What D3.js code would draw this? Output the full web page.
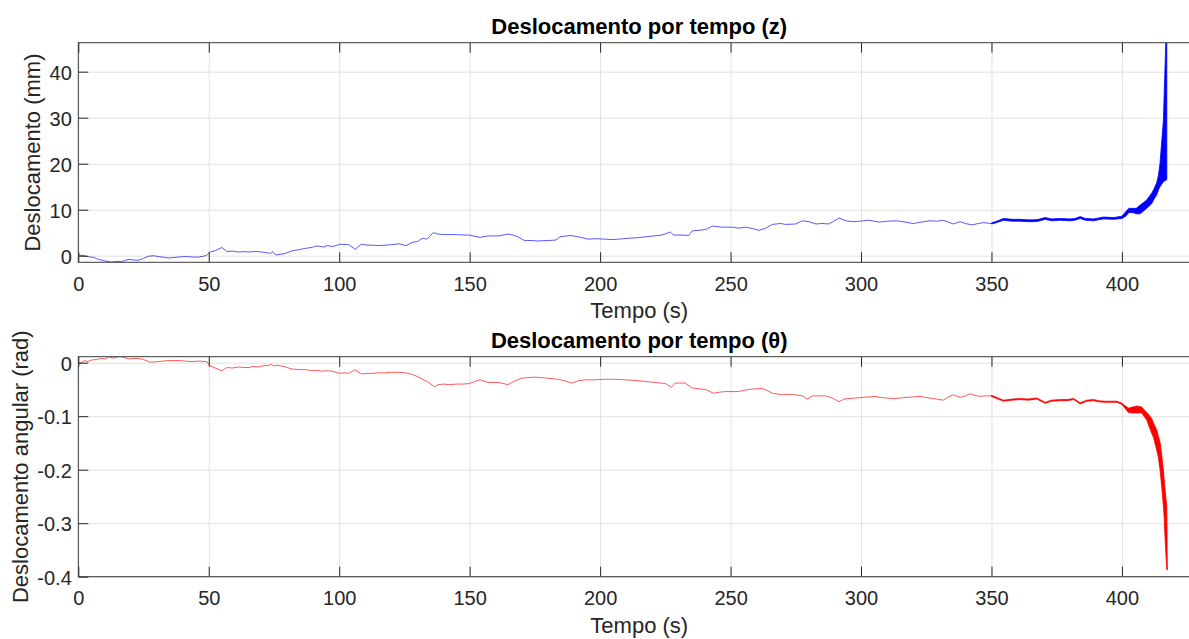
<!DOCTYPE html>
<html>
<head>
<meta charset="utf-8">
<script src="https://cdn.jsdelivr.net/npm/d3@7"></script>
<style>
  html, body { margin: 0; padding: 0; background: #ffffff; }
  svg { display: block; font-family: "Liberation Sans", Arial, Helvetica, sans-serif; }
  .tick text { fill: #262626; }
</style>
</head>
<body>
<svg id="fig" width="1189" height="639"></svg>
<script>
// ---- Time axis (shared by both panels) ----
const xTicks = [0, 50, 100, 150, 200, 250, 300, 350, 400];
const xTickLabels = ["0", "50", "100", "150", "200", "250", "300", "350", "400"];
const xLimits = [0, 430];

// ---- Panel 1: linear displacement z (mm) ----
const zTicks = [0, 10, 20, 30, 40];
const zTickLabels = ["0", "10", "20", "30", "40"];
const zLimits = [-1.43, 46.3];

const zTime = [0, 2, 3.8, 6, 7.7, 10, 12.8, 15, 16.6, 19.2, 21, 23, 25, 26.9, 29, 30.7, 32.5, 34.5, 36.5, 38.3,
  40, 42.2, 44, 46, 48, 49.2, 50.5, 52.5, 55, 57, 59, 61.5, 63.5, 65.4, 67, 69, 71.5, 73.7, 74.5, 75.6,
  77.5, 79.4, 82, 84.5, 87, 89.6, 90.5, 92.1, 94, 95.5, 97.3, 100.4, 103.6, 106.2, 107.5, 108.7, 110.5, 112.6, 115, 117.7,
  120, 123, 125.6, 128, 130, 132, 133.5, 134.5, 136, 138, 140, 143, 145, 147.5, 150, 152, 154, 157, 160.9, 164.7,
  166.5, 168.5, 171, 174, 176, 180, 183, 184.6, 188.5, 191.7, 195.5, 198, 201.9, 204.5, 207, 210.9, 214, 217.3, 220.5, 223.7,
  226.9, 228.2, 231, 234, 235.3, 239, 241, 243, 246.8, 250.7, 253, 255.8, 258.5, 260.9, 263.5, 266, 269.2, 271.1, 275, 277.5,
  280, 282.7, 285, 287.8, 291.6, 294.1, 297, 299.3, 303.1, 307, 310, 313.6, 317, 320, 323, 326.4, 329, 331.5, 333.5, 335.4,
  338, 340, 342.4, 345, 346.9, 350, 352];
const zDisp = [0.2, 0.0, -0.2, -0.4, -0.8, -1.1, -1.4, -1.2, -1.3, -0.8, -0.9, -1.0, -0.6, -0.1, 0.0, -0.2, -0.3, -0.5, -0.4, -0.3,
  -0.2, -0.2, -0.3, -0.3, -0.1, 0.1, 0.8, 1.1, 1.8, 0.9, 1.0, 0.8, 0.9, 0.8, 0.9, 0.9, 0.7, 0.5, 0.9, 0.15,
  0.3, 0.5, 1.1, 1.3, 1.6, 1.8, 2.0, 2.1, 1.9, 2.2, 2.0, 2.5, 2.4, 1.4, 2.1, 2.5, 2.3, 2.3, 2.2, 2.3,
  2.4, 2.6, 2.2, 2.9, 3.1, 3.8, 3.6, 4.1, 5.0, 4.7, 4.6, 4.6, 4.6, 4.5, 4.5, 4.2, 4.0, 4.3, 4.3, 4.7,
  4.5, 4.1, 3.3, 3.3, 3.2, 3.3, 3.4, 4.1, 4.4, 4.1, 3.6, 3.7, 3.6, 3.5, 3.6, 3.8, 3.9, 4.1, 4.3, 4.5,
  5.15, 4.5, 4.5, 4.4, 5.4, 5.6, 5.8, 6.45, 6.2, 6.2, 6.0, 6.2, 5.9, 5.5, 6.0, 6.8, 7.0, 6.8, 6.9, 7.6,
  7.4, 6.9, 7.0, 6.9, 8.2, 7.6, 7.4, 7.5, 7.7, 7.3, 7.5, 7.6, 7.3, 7.0, 7.3, 7.6, 7.5, 7.7, 7.3, 6.9,
  7.4, 7.0, 6.7, 7.0, 7.2, 7.0, 7.3];

// Oscillating end section of z, given as lower / upper envelope of the trace
const zBandTime = [350, 352, 354.6, 358, 361, 364, 366, 368, 370.6, 373, 376.4, 380.2, 382, 384, 386, 389.2, 391, 393, 396.9, 400,
  401.5, 402.7, 404.4, 405.5, 407, 409.5, 411.4, 412.1, 413.3, 414, 414.6, 415.9, 416.8, 417.2];
const zBandLow = [6.9, 7.2, 7.7, 7.5, 7.5, 7.4, 7.4, 7.5, 7.9, 7.6, 7.7, 7.6, 7.7, 8.1, 7.7, 7.6, 7.8, 8.0, 7.9, 8.1,
  8.6, 9.4, 9.35, 9.1, 9.1, 10.3, 11.3, 12.1, 13.2, 14.3, 15.0, 16.1, 16.4, 16.5];
const zBandHigh = [7.1, 7.5, 8.1, 7.9, 7.9, 7.8, 7.8, 7.9, 8.3, 8.0, 8.1, 8.0, 8.1, 8.5, 8.1, 8.0, 8.2, 8.4, 8.3, 8.6,
  9.6, 10.3, 10.3, 10.3, 11.0, 12.1, 13.6, 14.3, 15.8, 17.5, 20.1, 29.5, 46.3, 46.3];

// ---- Panel 2: angular displacement theta (rad) ----
const thTicks = [-0.4, -0.3, -0.2, -0.1, 0];
const thTickLabels = ["-0.4", "-0.3", "-0.2", "-0.1", "0"];
const thLimits = [-0.4, 0.0112];

const thTime = [0, 1.5, 2.5, 3.5, 5.1, 7, 8.9, 10.2, 11.5, 12.8, 14, 15.2, 16.6, 18, 19.2, 21.5, 24.3, 26, 27.5, 30.7,
  32.5, 34.5, 36.5, 38.3, 41, 43.5, 46, 49.2, 50.5, 52.5, 55, 57, 59, 61.5, 63.5, 65.4, 67, 69, 70.5, 72.9,
  74, 74.8, 76.7, 79.4, 82, 85.8, 87.5, 89.6, 91.5, 93.5, 95.5, 97.3, 100.4, 102, 103.6, 106.2, 107.5, 108.7, 110.5, 112.6,
  115, 117.7, 120, 123, 125.6, 128, 130, 132, 134, 136.5, 138, 139.8, 142, 145, 147.5, 150, 152, 154, 157, 161,
  164.7, 167, 169.8, 172, 175, 177.5, 180, 184, 186.5, 189, 191.5, 194.2, 198, 202, 205, 209.6, 213, 217.3, 221, 225,
  227.3, 228.8, 232.6, 235.2, 238, 240.3, 243.5, 246, 248, 253, 256.9, 259.5, 262, 264, 266, 269.8, 273.6, 277.5, 279.4, 281.3,
  284, 286.5, 289, 291.6, 293.5, 295.5, 298, 300.6, 303, 305.7, 307.3, 310, 312.4, 315, 317.5, 320, 322.6, 325, 327.7, 331.5,
  333.5, 335.4, 338, 340, 341.8, 343.5, 345.6, 348, 350, 352];
const thDisp = [-0.002, 0.001, 0.004, 0.002, 0.005, 0.006, 0.008, 0.007, 0.011, 0.009, 0.009, 0.011, 0.011, 0.009, 0.007, 0.008, 0.007, 0.004, 0.001, 0.002,
  0.003, 0.004, 0.004, 0.004, 0.003, 0.002, 0.003, 0.002, -0.006, -0.010, -0.015, -0.009, -0.010, -0.008, -0.009, -0.009, -0.007, -0.008, -0.006, -0.005,
  -0.003, -0.006, -0.005, -0.008, -0.012, -0.013, -0.013, -0.015, -0.014, -0.016, -0.015, -0.016, -0.020, -0.019, -0.020, -0.013, -0.018, -0.021, -0.020, -0.020,
  -0.019, -0.019, -0.018, -0.018, -0.019, -0.022, -0.026, -0.031, -0.036, -0.045, -0.041, -0.040, -0.041, -0.040, -0.040, -0.039, -0.035, -0.032, -0.037, -0.037,
  -0.041, -0.035, -0.029, -0.028, -0.027, -0.028, -0.029, -0.031, -0.034, -0.038, -0.034, -0.032, -0.032, -0.031, -0.031, -0.032, -0.033, -0.035, -0.037, -0.039,
  -0.046, -0.038, -0.038, -0.047, -0.049, -0.050, -0.057, -0.055, -0.054, -0.054, -0.050, -0.049, -0.048, -0.052, -0.057, -0.060, -0.059, -0.062, -0.068, -0.062,
  -0.062, -0.062, -0.066, -0.073, -0.068, -0.067, -0.066, -0.065, -0.064, -0.063, -0.065, -0.066, -0.067, -0.066, -0.065, -0.064, -0.063, -0.065, -0.067, -0.070,
  -0.064, -0.060, -0.065, -0.062, -0.058, -0.061, -0.063, -0.062, -0.062, -0.066];

// Oscillating end section of theta, lower / upper envelope
const thBandTime = [350, 352, 354.6, 358, 361, 364, 367.4, 370.6, 373, 376.4, 379, 381.5, 384, 386.5, 389.2, 391, 393, 396, 398.1, 400,
  402.5, 404, 405.7, 407.6, 409.5, 411.4, 412.1, 413.3, 414, 414.6, 415.3, 415.9, 416.2, 416.5, 417.2, 417.4];
const thBandLow = [-0.063, -0.067, -0.072, -0.070, -0.069, -0.070, -0.068, -0.076, -0.072, -0.071, -0.071, -0.069, -0.077, -0.072, -0.071, -0.073, -0.074, -0.074, -0.074, -0.078,
  -0.093, -0.094, -0.094, -0.094, -0.107, -0.132, -0.140, -0.163, -0.178, -0.200, -0.235, -0.269, -0.290, -0.325, -0.387, -0.387];
const thBandHigh = [-0.061, -0.065, -0.070, -0.068, -0.067, -0.068, -0.066, -0.074, -0.070, -0.069, -0.069, -0.067, -0.075, -0.070, -0.069, -0.071, -0.072, -0.072, -0.072, -0.076,
  -0.085, -0.083, -0.081, -0.083, -0.093, -0.104, -0.113, -0.125, -0.138, -0.148, -0.175, -0.200, -0.219, -0.235, -0.269, -0.387];

// ---- Layout ----
const AX_LEFT = 78.3, AX_RIGHT = 1200.2;
const INK = "#262626";
const svg = d3.select("#fig");

const panels = [
  {
    id: "z", top: 42.7, bottom: 262.3, limits: zLimits, ticks: zTicks, tickLabels: zTickLabels,
    title: "Deslocamento por tempo (z)", ylabel: "Deslocamento (mm)", ylabelX: 39.5,
    time: zTime, values: zDisp, bandTime: zBandTime, bandLow: zBandLow, bandHigh: zBandHigh,
    color: "#0000ff"
  },
  {
    id: "th", top: 356.7, bottom: 576.7, limits: thLimits, ticks: thTicks, tickLabels: thTickLabels,
    title: "Deslocamento por tempo (\u03b8)", ylabel: "Deslocamento angular (rad)", ylabelX: 28,
    time: thTime, values: thDisp, bandTime: thBandTime, bandLow: thBandLow, bandHigh: thBandHigh,
    color: "#ff0000"
  }
];

const x = d3.scaleLinear().domain(xLimits).range([AX_LEFT, AX_RIGHT]);

panels.forEach(p => {
  const y = d3.scaleLinear().domain(p.limits).range([p.bottom, p.top]);
  const h = p.bottom - p.top;
  const g = svg.append("g").attr("class", "axes-" + p.id);

  // clip region for data
  svg.append("clipPath").attr("id", "clip-" + p.id)
    .append("rect").attr("x", AX_LEFT).attr("y", p.top)
    .attr("width", AX_RIGHT - AX_LEFT).attr("height", h);

  // grid lines
  const gx = g.append("g").attr("transform", `translate(0,${p.bottom})`)
    .call(d3.axisBottom(x).tickValues(xTicks).tickSize(-h).tickFormat(""));
  const gy = g.append("g").attr("transform", `translate(${AX_LEFT},0)`)
    .call(d3.axisLeft(y).tickValues(p.ticks).tickSize(-(AX_RIGHT - AX_LEFT)).tickFormat(""));
  [gx, gy].forEach(s => {
    s.select(".domain").remove();
    s.selectAll(".tick line").attr("stroke", "#e2e2e2").attr("stroke-width", 1);
  });

  // data: thin trace + oscillating envelope
  const data = p.time.map((t, i) => [t, p.values[i]]);
  const line = d3.line().x(d => x(d[0])).y(d => y(d[1]));
  g.append("path").datum(data)
    .attr("clip-path", `url(#clip-${p.id})`)
    .attr("d", line)
    .attr("fill", "none").attr("stroke", p.color)
    .attr("stroke-width", 1).attr("stroke-opacity", 0.65)
    .attr("stroke-linejoin", "round");

  const band = p.bandTime.map((t, i) => [t, p.bandLow[i], p.bandHigh[i]]);
  const area = d3.area().x(d => x(d[0])).y0(d => y(d[1])).y1(d => y(d[2]));
  g.append("path").datum(band)
    .attr("clip-path", `url(#clip-${p.id})`)
    .attr("d", area)
    .attr("fill", p.color).attr("stroke", p.color).attr("stroke-width", 0.8)
    .attr("stroke-linejoin", "round");

  // axes with inward ticks
  const axB = g.append("g").attr("transform", `translate(0,${p.bottom})`)
    .call(d3.axisBottom(x).tickValues(xTicks).tickSizeInner(-10).tickSizeOuter(0)
      .tickPadding(14.6).tickFormat((d, i) => xTickLabels[i]));
  const axT = g.append("g").attr("transform", `translate(0,${p.top})`)
    .call(d3.axisTop(x).tickValues(xTicks).tickSizeInner(-10).tickSizeOuter(0).tickFormat(""));
  const axL = g.append("g").attr("transform", `translate(${AX_LEFT},0)`)
    .call(d3.axisLeft(y).tickValues(p.ticks).tickSizeInner(-10).tickSizeOuter(0)
      .tickPadding(6.5).tickFormat((d, i) => p.tickLabels[i]));
  [axB, axT, axL].forEach(s => {
    s.select(".domain").remove();
    s.selectAll(".tick line").attr("stroke", INK).attr("stroke-width", 1);
    s.selectAll(".tick text").attr("font-size", 20).attr("fill", INK)
      .attr("font-family", "'Liberation Sans', Arial, Helvetica, sans-serif");
  });
  axL.selectAll(".tick text").attr("dy", "0.37em");

  // axes box
  g.append("rect").attr("x", AX_LEFT).attr("y", p.top)
    .attr("width", AX_RIGHT - AX_LEFT).attr("height", h)
    .attr("fill", "none").attr("stroke", "#3a3a3a").attr("stroke-width", 1);

  // title and labels
  g.append("text").attr("x", (AX_LEFT + AX_RIGHT) / 2).attr("y", p.top - 8.6)
    .attr("text-anchor", "middle").attr("font-size", 22).attr("font-weight", "bold")
    .attr("fill", "#000").text(p.title);
  g.append("text").attr("x", (AX_LEFT + AX_RIGHT) / 2).attr("y", p.bottom + 56)
    .attr("text-anchor", "middle").attr("font-size", 22).attr("fill", INK).text("Tempo (s)");
  g.append("text")
    .attr("transform", `translate(${p.ylabelX},${(p.top + p.bottom) / 2}) rotate(-90)`)
    .attr("text-anchor", "middle").attr("font-size", 22).attr("fill", INK).text(p.ylabel);
});
</script>
</body>
</html>
